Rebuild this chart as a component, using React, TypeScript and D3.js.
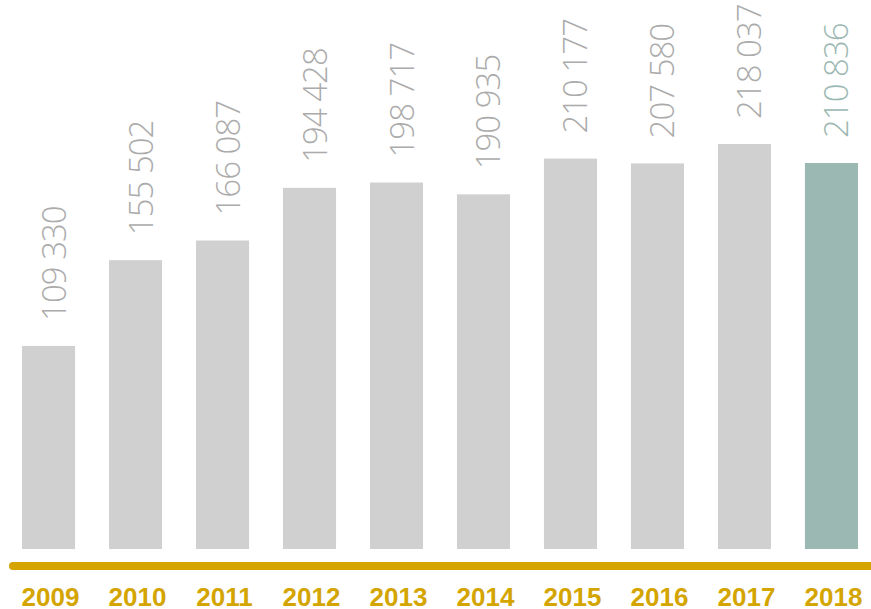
import React from "react";
import * as d3 from "d3";

const years = ["2009", "2010", "2011", "2012", "2013", "2014", "2015", "2016", "2017", "2018"];
const values = [109330, 155502, 166087, 194428, 197300, 190935, 210177, 207580, 218037, 207800];
const labels = ["109 330", "155 502", "166 087", "194 428", "198 717", "190 935", "210 177", "207 580", "218 037", "210 836"];

const W = 871;
const H = 609;

export default function App() {
  const x = d3.scaleBand<string>().domain(years).range([22, 858]).paddingInner(0.39).paddingOuter(0);
  const y = d3.scaleLinear().domain([0, 218037]).range([549, 144]);
  const last = years.length - 1;
  return (
    <div style={{ position: "absolute", left: 0, top: 0 }}>
      <svg width={W} height={H} style={{ display: "block" }}>
        {years.map((yr, i) => {
          const bx = x(yr)!;
          const bw = x.bandwidth();
          const top = y(values[i]);
          const cx = bx + bw / 2;
          const isLast = i === last;
          return (
            <g key={yr}>
              <rect x={bx} y={top} width={bw} height={y(0) - top} fill={isLast ? "#9cb8b2" : "#d0d0d0"} />
              <text
                transform={`translate(${cx + 17},${top - 25}) rotate(-90)`}
                textAnchor="start"
                fontFamily="'Open Sans', sans-serif"
                fontWeight={300}
                fontSize={33}
                letterSpacing={-1}
                fill={isLast ? "#9cb8b2" : "#ababab"}
              >
                {labels[i]}
              </text>
              <text
                x={cx + 2}
                y={606}
                textAnchor="middle"
                fontFamily="'Liberation Sans', Arial, sans-serif"
                fontWeight={700}
                fontSize={26}
                fill="#d4a500"
              >
                {yr}
              </text>
            </g>
          );
        })}
        <line x1={13} x2={W + 10} y1={566} y2={566} stroke="#d4a500" strokeWidth={8} strokeLinecap="round" />
      </svg>
    </div>
  );
}
